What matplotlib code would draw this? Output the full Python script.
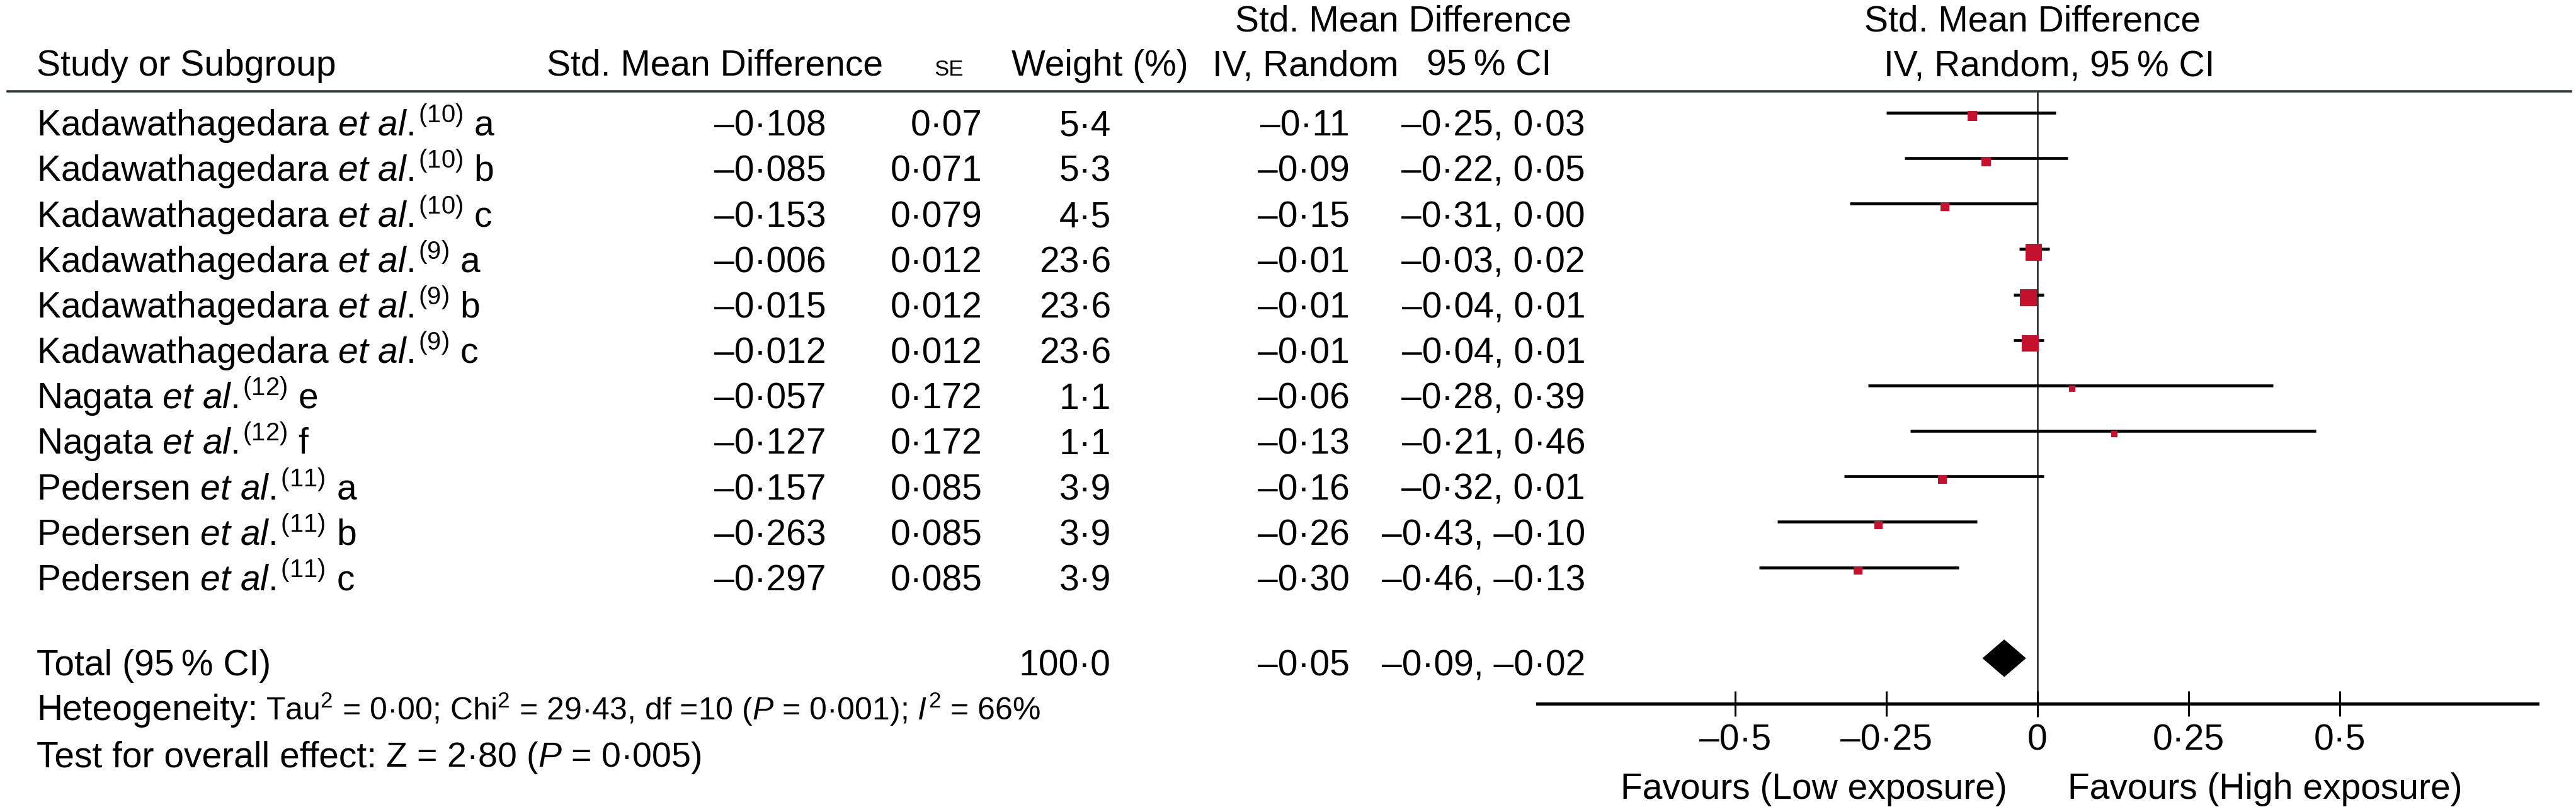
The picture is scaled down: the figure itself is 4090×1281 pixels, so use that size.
import numpy as np
import matplotlib
matplotlib.use("Agg")
import matplotlib.pyplot as plt
from matplotlib import transforms
from matplotlib.lines import Line2D
from matplotlib.patches import Polygon

plt.rcParams['font.family'] = ['Liberation Sans', 'DejaVu Sans']
plt.rcParams['mathtext.fontset'] = 'custom'
plt.rcParams['mathtext.rm'] = 'Liberation Sans'
plt.rcParams['mathtext.it'] = 'Liberation Sans:italic'
plt.rcParams['mathtext.bf'] = 'Liberation Sans:bold'

# ---------------- data ----------------
authors = ['Kadawathagedara'] * 6 + ['Nagata'] * 2 + ['Pedersen'] * 3
refs = ['10', '10', '10', '9', '9', '9', '12', '12', '11', '11', '11']
subs = ['a', 'b', 'c', 'a', 'b', 'c', 'e', 'f', 'a', 'b', 'c']
smd = [-0.108, -0.085, -0.153, -0.006, -0.015, -0.012, -0.057, -0.127, -0.157, -0.263, -0.297]
se = [0.07, 0.071, 0.079, 0.012, 0.012, 0.012, 0.172, 0.172, 0.085, 0.085, 0.085]
weight = [5.4, 5.3, 4.5, 23.6, 23.6, 23.6, 1.1, 1.1, 3.9, 3.9, 3.9]
est = [-0.11, -0.09, -0.15, -0.01, -0.01, -0.01, -0.06, -0.13, -0.16, -0.26, -0.30]
ci_lo = [-0.25, -0.22, -0.31, -0.03, -0.04, -0.04, -0.28, -0.21, -0.32, -0.43, -0.46]
ci_hi = [0.03, 0.05, 0.00, 0.02, 0.01, 0.01, 0.39, 0.46, 0.01, -0.10, -0.13]
# square positions as drawn in the plot
point = [-0.108, -0.085, -0.153, -0.006, -0.015, -0.012, 0.057, 0.127, -0.157, -0.263, -0.297]

total_weight = 100.0
total_est = -0.05
total_lo = -0.09
total_hi = -0.02
total_point = -0.055

xticks = [-0.5, -0.25, 0, 0.25, 0.5]
xticklabels = ['\u20130\u00b75', '\u20130\u00b725', '0', '0\u00b725', '0\u00b75']

# ---------------- helpers ----------------
def fmt(v, nd=None):
    if nd is None:
        s = np.format_float_positional(abs(v), trim='-')
    else:
        s = f"{abs(v):.{nd}f}"
    s = s.replace('.', '\u00b7')
    return ('\u2013' + s) if v < 0 else s

W, H = 4090, 1281
FS = 41
RED = '#C4122F'

fig = plt.figure(figsize=(W / 100, H / 100), dpi=100)
fig.patch.set_facecolor('white')

# forest axes
ax = fig.add_axes([2441 / W, 1 - 1117 / H, 1588 / W, 972 / H])
ax.set_facecolor('none')
ax.set_xlim(-0.827, 0.827)
ax.set_ylim(13.0, -0.47)
for s in ['top', 'left', 'right']:
    ax.spines[s].set_visible(False)
ax.spines['bottom'].set_linewidth(3.6)
ax.set_xticks(xticks)
ax.set_xticklabels(xticklabels)
ax.tick_params(axis='x', direction='inout', length=29, width=2.2, pad=8, labelsize=FS)
ax.tick_params(axis='y', left=False, labelleft=False)

rows = np.arange(len(smd))
total_row = 12

ax.axvline(0, ymin=-20 / 972, ymax=1, color='#1a1a1a', lw=1.8, clip_on=False, zorder=1)
ax.hlines(rows, ci_lo, ci_hi, color='black', lw=3.3, zorder=2)
side_px = 5 + 4.4 * np.sqrt(np.array(weight))
ax.scatter(point, rows + 0.07, marker='s', s=(side_px * 0.72) ** 2, color=RED, linewidths=0, zorder=3)
dh = 0.4
ax.add_patch(Polygon([[total_lo, total_row], [total_point, total_row - dh],
                      [total_hi, total_row], [total_point, total_row + dh]],
                     closed=True, color='black', zorder=3))

# header rule
fig.add_artist(Line2D([12 / W, 4082 / W], [1 - 145 / H] * 2, transform=fig.transFigure,
                      color='#2f3838', lw=2.6))

# table text
tr = transforms.blended_transform_factory(fig.transFigure, ax.transData)
off = 0.51
for i in rows:
    y = i + off
    lab = f"{authors[i]} $\\mathit{{et\\ al.}}^{{\\!\\mathrm{{({refs[i]})}}}}$ {subs[i]}"
    fig.text(58 / W, y, lab, transform=tr, ha='left', va='baseline', fontsize=FS)
    fig.text(1312 / W, y, fmt(smd[i]), transform=tr, ha='right', va='baseline', fontsize=FS)
    fig.text(1560 / W, y, fmt(se[i]), transform=tr, ha='right', va='baseline', fontsize=FS)
    fig.text(1764 / W, y, fmt(weight[i], 1), transform=tr, ha='right', va='baseline', fontsize=FS)
    fig.text(2143 / W, y, fmt(est[i], 2), transform=tr, ha='right', va='baseline', fontsize=FS)
    fig.text(2517 / W, y, f"{fmt(ci_lo[i], 2)}, {fmt(ci_hi[i], 2)}", transform=tr,
             ha='right', va='baseline', fontsize=FS)

yt = total_row + 0.38
fig.text(58 / W, yt, 'Total (95\u2009% CI)', transform=tr, ha='left', va='baseline', fontsize=FS)
fig.text(1764 / W, yt, fmt(total_weight, 1), transform=tr, ha='right', va='baseline', fontsize=FS)
fig.text(2143 / W, yt, fmt(total_est, 2), transform=tr, ha='right', va='baseline', fontsize=FS)
fig.text(2517 / W, yt, f"{fmt(total_lo, 2)}, {fmt(total_hi, 2)}", transform=tr,
         ha='right', va='baseline', fontsize=FS)

# headers
def ftext(xpx, ypx, s, **kw):
    kw.setdefault('fontsize', FS)
    kw.setdefault('va', 'baseline')
    return fig.text(xpx / W, 1 - ypx / H, s, **kw)

ftext(58, 120, 'Study or Subgroup', ha='left')
ftext(1135, 120, 'Std. Mean Difference', ha='center')
ftext(1507, 120, 'SE', ha='center', fontsize=25)
ftext(1746, 120, 'Weight (%)', ha='center')
ftext(2073, 120, 'IV, Random', ha='center')
ftext(2364, 120, '95\u2009% CI', ha='center')
ftext(2228, 49, 'Std. Mean Difference', ha='center')
ftext(3227, 49, 'Std. Mean Difference', ha='center')
ftext(3254, 120, 'IV, Random, 95\u2009% CI', ha='center')

# footer (second part placed right after the first part)
t_het = ftext(58, 1143, 'Heteogeneity:', ha='left')
t_test = ftext(58, 1217, 'Test for overall effect:', ha='left')
fig.canvas.draw()
rend = fig.canvas.get_renderer()
x_het = t_het.get_window_extent(rend).x1 + 13
x_test = t_test.get_window_extent(rend).x1 + 14
ftext(x_het, 1143, 'Tau$^{2}$ = 0\u00b700; Chi$^{2}$ = 29\u00b743, df =10 ($P$ = 0\u00b7001); $I^{2}$ = 66%',
      ha='left', fontsize=36)
ftext(x_test, 1217, 'Z = 2\u00b780 ($P$ = 0\u00b7005)', ha='left', fontsize=40)

# favours labels
trf = transforms.blended_transform_factory(ax.transData, fig.transFigure)
ax.text(-0.05, 1 - 1268 / H, 'Favours (Low exposure)', transform=trf, ha='right', va='baseline', fontsize=FS)
ax.text(0.05, 1 - 1268 / H, 'Favours (High exposure)', transform=trf, ha='left', va='baseline', fontsize=FS)

fig.savefig('out.png', dpi=100, facecolor='white')
